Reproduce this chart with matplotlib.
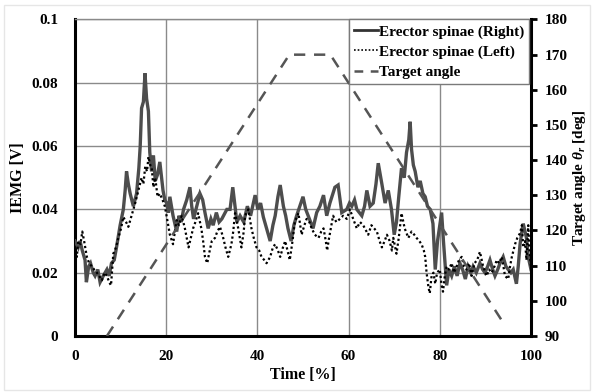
import matplotlib
matplotlib.use("Agg")
import matplotlib.pyplot as plt
from matplotlib.lines import Line2D

# ---------------- data ----------------
t_right = [0, 0.7, 1.1, 1.6, 2.2, 2.5, 3.0, 3.4, 4.0, 4.4, 5.0, 5.5, 6.2, 7.0, 7.5, 8.0, 8.6, 9.1,
           9.9, 10.6, 11.0, 11.3, 11.7, 12.1, 12.8, 13.5, 14.0, 14.3, 14.6, 15.0, 15.35, 15.7, 16.1,
           16.4, 16.8, 17.2, 17.6, 18.1, 18.6, 19.3, 19.7, 20.1, 20.5, 20.8, 21.5, 22.3, 22.8, 23.3,
           23.8, 24.5, 25.2, 25.6, 26.0, 26.7, 27.4, 28.0, 28.5, 29.2, 29.8, 30.3, 31.0, 31.6, 32.2,
           33.3, 34.0, 34.6, 35.0, 35.5, 36.2, 37.0, 37.8, 38.5, 39.5, 40.1, 40.7, 41.3, 42.0, 42.8,
           43.4, 43.9, 44.5, 45.0, 45.7, 46.2, 46.7, 47.4, 48.0, 48.6, 49.3, 50.0, 50.6, 51.5, 52.2,
           53.0, 53.7, 54.5, 55.2, 55.9, 57.0, 57.7, 58.5, 59.6, 60.2, 60.7, 61.3, 61.8, 62.9, 63.5,
           64.0, 64.7, 65.4, 66.0, 66.5, 67.3, 68.0, 68.7, 69.4, 70.0, 70.5, 71.0, 71.6, 72.2, 72.7,
           73.2, 73.5, 73.8, 74.2, 74.6, 75.2, 75.7, 76.3, 76.8, 77.3, 77.9, 78.5, 79.0, 79.5, 80.0,
           80.4, 80.8, 81.2, 81.5, 82.0, 82.6, 83.2, 83.8, 84.4, 85.0, 85.6, 86.2, 86.8, 87.3, 88.0,
           88.8, 89.4, 89.9, 90.5, 91.0, 91.6, 92.1, 92.7, 93.2, 93.9, 94.5, 95.0, 95.6, 96.1, 96.8,
           97.2, 97.6, 98.0, 98.3, 98.7, 99.0, 99.4, 99.7, 100]
emg_right = [0.030, 0.028, 0.030, 0.027, 0.024, 0.017, 0.022, 0.023, 0.020, 0.019, 0.021, 0.017,
             0.019, 0.021, 0.019, 0.023, 0.024, 0.028, 0.035, 0.040, 0.046, 0.052, 0.048, 0.045,
             0.041, 0.045, 0.053, 0.060, 0.072, 0.074, 0.083, 0.075, 0.071, 0.058, 0.052, 0.057,
             0.049, 0.051, 0.055, 0.046, 0.043, 0.042, 0.039, 0.044, 0.038, 0.033, 0.038, 0.036,
             0.040, 0.043, 0.047, 0.041, 0.037, 0.041, 0.045, 0.043, 0.039, 0.034, 0.037, 0.035,
             0.039, 0.036, 0.037, 0.040, 0.040, 0.047, 0.042, 0.036, 0.038, 0.036, 0.041, 0.038,
             0.0445, 0.040, 0.042, 0.0376, 0.034, 0.030, 0.035, 0.038, 0.044, 0.0477, 0.041, 0.038,
             0.034, 0.030, 0.035, 0.038, 0.041, 0.044, 0.040, 0.0366, 0.034, 0.039, 0.041, 0.0445,
             0.038, 0.042, 0.047, 0.0477, 0.039, 0.040, 0.042, 0.041, 0.043, 0.040, 0.038, 0.041,
             0.046, 0.041, 0.042, 0.048, 0.0546, 0.048, 0.042, 0.046, 0.040, 0.032, 0.036, 0.044,
             0.053, 0.050, 0.058, 0.062, 0.0677, 0.059, 0.054, 0.052, 0.047, 0.049, 0.045, 0.044,
             0.041, 0.040, 0.0355, 0.021, 0.030, 0.035, 0.039, 0.030, 0.022, 0.016, 0.021, 0.019,
             0.022, 0.019, 0.023, 0.021, 0.018, 0.022, 0.020, 0.022, 0.020, 0.023, 0.021, 0.020,
             0.022, 0.024, 0.021, 0.019, 0.021, 0.023, 0.025, 0.022, 0.021, 0.020, 0.021, 0.0165,
             0.022, 0.029, 0.033, 0.0355, 0.033, 0.031, 0.025, 0.023, 0.021]

t_left = [0, 0.4, 0.7, 1.2, 1.6, 2.0, 2.6, 3.1, 3.7, 4.2, 4.8, 5.3, 5.9, 6.5, 7.0, 7.5, 7.9, 8.4,
          9.0, 9.5, 10.1, 10.6, 11.2, 11.7, 12.4, 13.2, 13.9, 14.6, 15.0, 15.4, 15.8, 16.1, 16.5,
          16.8, 17.2, 17.6, 18.1, 18.6, 19.2, 19.7, 20.2, 20.8, 21.5, 21.9, 22.3, 22.8, 23.4, 24.1,
          24.5, 24.9, 25.4, 25.9, 26.4, 27.0, 27.7, 28.1, 28.5, 29.0, 29.4, 30.0, 30.7, 31.2, 31.8,
          32.5, 33.0, 33.6, 34.3, 34.7, 35.1, 35.8, 36.5, 37.0, 37.3, 38.0, 38.7, 39.2, 39.8, 40.4,
          40.9, 41.5, 42.0, 42.8, 43.4, 43.9, 44.5, 45.0, 45.6, 46.1, 46.6, 47.1, 47.7, 48.2, 49.0,
          49.7, 50.3, 50.8, 51.4, 51.9, 52.6, 53.4, 54.0, 54.5, 55.0, 55.3, 55.6, 56.1, 56.6, 57.3,
          58.1, 58.8, 59.6, 60.3, 61.0, 61.8, 62.5, 63.2, 64.3, 65.0, 65.6, 66.2, 66.8, 67.3, 67.9,
          68.4, 69.0, 69.5, 69.8, 70.5, 71.0, 71.6, 72.3, 73.1, 73.8, 74.4, 74.9, 75.5, 76.0, 76.5,
          76.8, 77.1, 77.5, 77.8, 78.2, 78.6, 79.0, 79.4, 80.0, 80.4, 80.7, 81.1, 81.5, 82.0, 82.6,
          83.1, 83.7, 84.2, 84.8, 85.3, 85.9, 86.4, 87.0, 87.6, 88.2, 88.8, 89.5, 90.3, 90.8, 91.4,
          92.0, 92.5, 93.0, 93.6, 94.3, 95.0, 95.4, 95.8, 96.5, 97.0, 97.6, 98.0, 98.3, 98.7, 99.0,
          99.4, 99.7, 100]
emg_left = [0.027, 0.025, 0.030, 0.029, 0.033, 0.030, 0.025, 0.023, 0.022, 0.021, 0.020, 0.019,
            0.0176, 0.020, 0.019, 0.017, 0.016, 0.026, 0.028, 0.031, 0.034, 0.0376, 0.036, 0.0345,
            0.038, 0.042, 0.046, 0.050, 0.048, 0.0535, 0.052, 0.0566, 0.054, 0.0535, 0.047, 0.050,
            0.044, 0.045, 0.043, 0.041, 0.037, 0.032, 0.029, 0.033, 0.0366, 0.035, 0.038, 0.034,
            0.031, 0.028, 0.031, 0.034, 0.036, 0.0388, 0.034, 0.030, 0.025, 0.023, 0.026, 0.030,
            0.031, 0.033, 0.0345, 0.031, 0.028, 0.025, 0.029, 0.033, 0.0388, 0.034, 0.028, 0.033,
            0.038, 0.040, 0.034, 0.031, 0.028, 0.027, 0.025, 0.024, 0.023, 0.025, 0.028, 0.029,
            0.027, 0.025, 0.028, 0.030, 0.027, 0.024, 0.030, 0.036, 0.0388, 0.032, 0.035, 0.037,
            0.036, 0.034, 0.032, 0.031, 0.033, 0.034, 0.030, 0.027, 0.030, 0.034, 0.038, 0.036,
            0.037, 0.038, 0.037, 0.040, 0.037, 0.034, 0.036, 0.035, 0.032, 0.035, 0.034, 0.033,
            0.030, 0.028, 0.030, 0.032, 0.030, 0.027, 0.031, 0.026, 0.031, 0.0388, 0.034, 0.031,
            0.033, 0.032, 0.031, 0.030, 0.029, 0.027, 0.025, 0.020, 0.0155, 0.0135, 0.019, 0.020,
            0.0165, 0.020, 0.021, 0.016, 0.014, 0.019, 0.022, 0.021, 0.023, 0.020, 0.022, 0.024,
            0.025, 0.022, 0.021, 0.023, 0.019, 0.023, 0.024, 0.0266, 0.022, 0.019, 0.021, 0.020,
            0.022, 0.024, 0.023, 0.025, 0.019, 0.018, 0.022, 0.025, 0.029, 0.031, 0.0325, 0.035,
            0.028, 0.030, 0.024, 0.035, 0.026, 0.022]

t_target = [7.0, 47.0, 56.0, 94.3]
angle_target = [90, 170, 170, 93]

x_ticks = [0, 20, 40, 60, 80, 100]
y_ticks = [0, 0.02, 0.04, 0.06, 0.08, 0.1]
y_tick_labels = ["0", "0.02", "0.04", "0.06", "0.08", "0.1"]
y2_ticks = [90, 100, 110, 120, 130, 140, 150, 160, 170, 180]

# ---------------- style ----------------
plt.rcParams['font.family'] = ['Liberation Serif', 'DejaVu Serif']
plt.rcParams['font.weight'] = 'bold'
plt.rcParams['mathtext.fontset'] = 'custom'
plt.rcParams['mathtext.it'] = 'Liberation Serif:italic:bold'
plt.rcParams['mathtext.rm'] = 'Liberation Serif:bold'
plt.rcParams['mathtext.bf'] = 'Liberation Serif:bold'

fig = plt.figure(figsize=(5.92, 3.92), dpi=100)
fig.patches.append(plt.Rectangle((0.007, 0.005), 0.99, 0.982, transform=fig.transFigure,
                                 fill=False, edgecolor='#e6e6e6', lw=1.0))
ax = fig.add_axes([75/592, 1-336/392, (531-75)/592, (336-19.5)/392])

ax.plot(t_right, emg_right, color='#4d4d4d', lw=2.4, solid_joinstyle='miter', zorder=3)
ax.plot(t_left, emg_left, color='black', lw=1.6, linestyle=(0, (1, 1.2)), zorder=4)

ax.set_xlim(0, 100)
ax.set_ylim(0, 0.1)
ax.set_xticks(x_ticks)
ax.set_yticks(y_ticks)
ax.set_yticklabels(y_tick_labels)
ax.grid(True, color='#8a8a8a', lw=1.0)
ax.set_axisbelow(True)
ax.tick_params(axis='both', length=0, labelsize=11)
ax.tick_params(axis='x', pad=10)
ax.tick_params(axis='y', pad=12)
for s in ['left', 'bottom']:
    ax.spines[s].set_linewidth(2.2)
    ax.spines[s].set_color('black')
ax.spines['top'].set_color('#8a8a8a')
ax.spines['top'].set_linewidth(1.0)
ax.set_xlabel("Time [%]", fontsize=11.5, fontweight='bold', labelpad=3)
ax.set_ylabel("IEMG [V]", fontsize=11.5, fontweight='bold', labelpad=4)

ax2 = ax.twinx()
ax2.plot(t_target, angle_target, color='#555555', lw=1.8, linestyle=(0, (4.5, 3.5)), zorder=2)
ax2.set_ylim(90, 180)
ax2.set_yticks(y2_ticks)
ax2.tick_params(axis='y', direction='out', length=4, width=2, labelsize=11, pad=6)
ax2.spines['right'].set_linewidth(2.2)
ax2.spines['right'].set_color('black')
for s in ['left', 'bottom', 'top']:
    ax2.spines[s].set_visible(False)
ax2.set_ylabel(r"Target angle $\theta_r$ [deg]", fontsize=11, fontweight='bold', labelpad=2)

handles = [Line2D([], [], color='#333333', lw=2.0),
           Line2D([], [], color='black', lw=1.2, linestyle=(0, (1, 1.2))),
           Line2D([], [], color='#555555', lw=1.8, linestyle=(0, (3.5, 3.0)))]
labels = ["Erector spinae (Right)", "Erector spinae (Left)", "Target angle"]
leg = ax2.legend(handles, labels, loc='upper right', bbox_to_anchor=(0.996, 1.0), fontsize=11,
                 frameon=True, fancybox=False, edgecolor='#7a7a7a', framealpha=1,
                 handlelength=1.55, handletextpad=0.05, borderpad=0.35, labelspacing=0.42,
                 borderaxespad=0.0)
leg.get_frame().set_linewidth(1.0)
leg.set_zorder(10)

fig.savefig("out.png", dpi=100)
